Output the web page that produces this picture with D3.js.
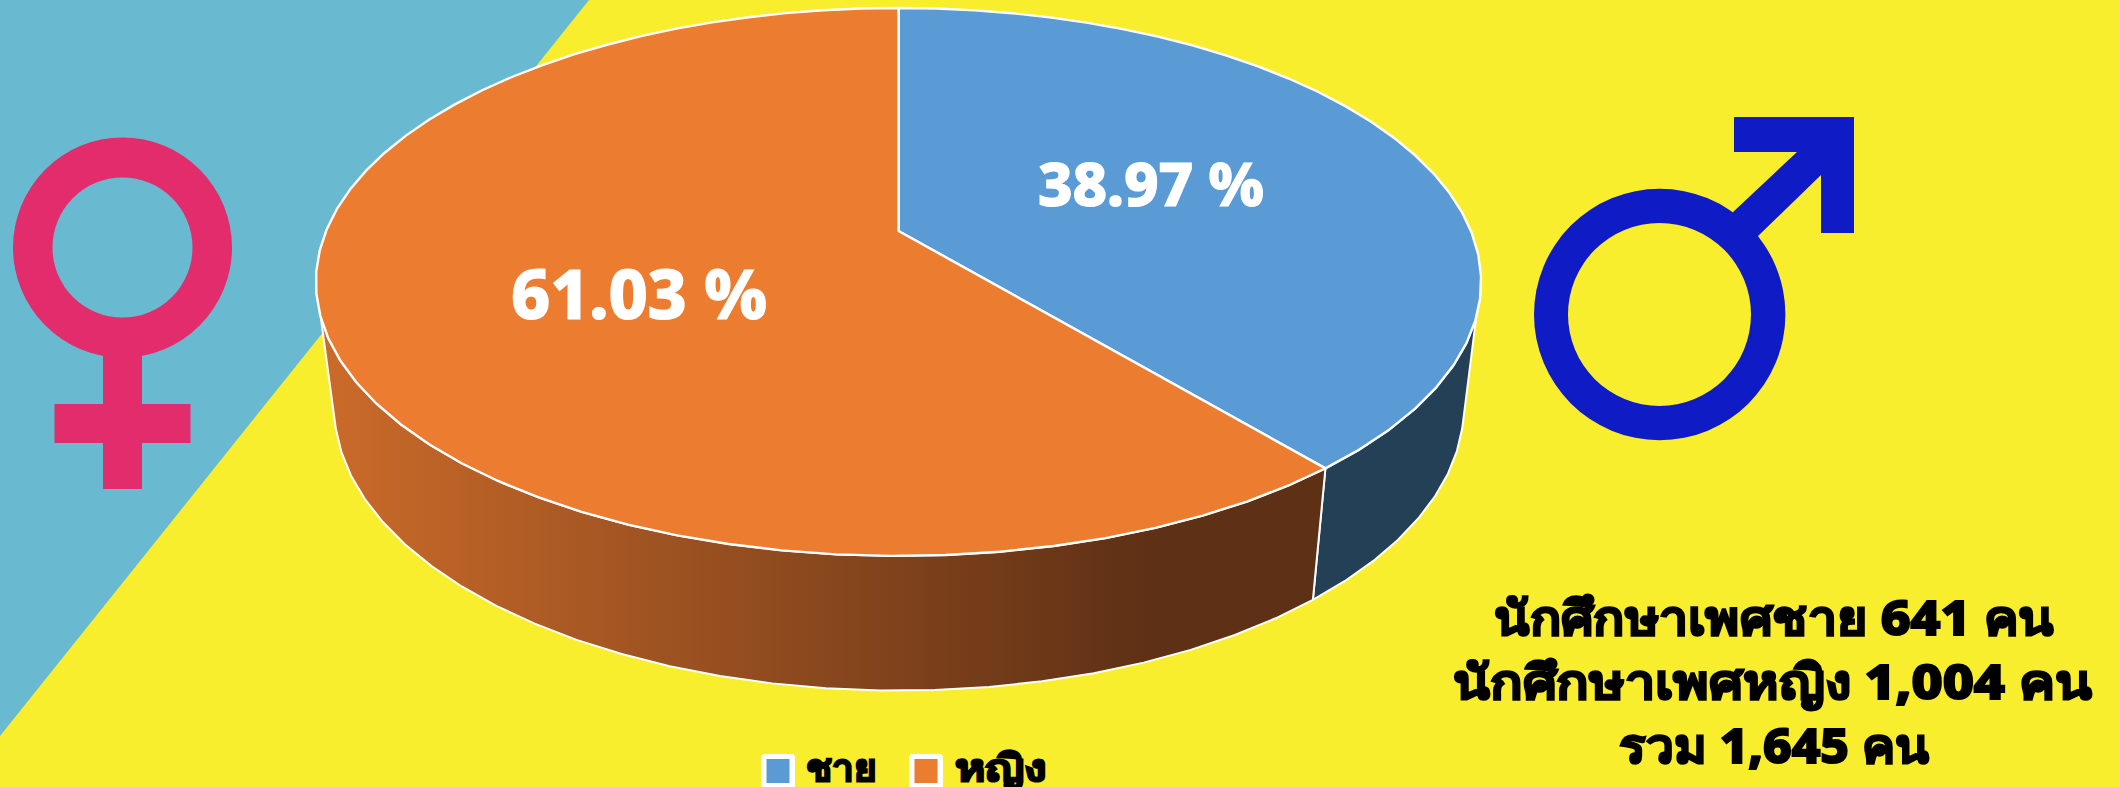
<!DOCTYPE html>
<html><head><meta charset="utf-8">
<script src="https://cdn.jsdelivr.net/npm/d3@7"></script>
<style>html,body{margin:0;padding:0;background:#f8ee2e;overflow:hidden}svg{display:block}
text{font-family:"Noto Sans","Open Sans",Lato,sans-serif;font-weight:800}</style></head>
<body><svg id="c" width="2120" height="787"></svg>
<script>
const categories = ["ชาย","หญิง"];
const students = [641,1004];
const pctLabels = ["38.97 %","61.03 %"];
const colors = ["#5b9bd5","#eb7c30"];
const summary = ["นักศึกษาเพศชาย 641 คน","นักศึกษาเพศหญิง 1,004 คน","รวม 1,645 คน"];

const svg = d3.select("#c");
const defs = svg.append("defs");
const g = defs.append("linearGradient").attr("id","wall").attr("gradientUnits","userSpaceOnUse")
  .attr("x1",320).attr("x2",1150).attr("y1",0).attr("y2",0);
g.append("stop").attr("offset",0).attr("stop-color","#cb6b2a");
g.append("stop").attr("offset",1).attr("stop-color","#5e3015");

svg.append("rect").attr("width",2120).attr("height",787).attr("fill","#f8ee2e");
svg.append("polygon").attr("points","0,0 589,0 0,736").attr("fill","#69b9d1");

const f = svg.append("g").attr("fill","#e22c6c");
f.append("path").attr("fill-rule","evenodd").attr("d",
 "M13,247.5a109.5,110 0 1,0 219,0a109.5,110 0 1,0 -219,0Z M52.5,247.5a70,70 0 1,0 140,0a70,70 0 1,0 -140,0Z");
f.append("rect").attr("x",103).attr("y",345).attr("width",39).attr("height",144);
f.append("rect").attr("x",54.5).attr("y",404).attr("width",136).attr("height",39);
const m = svg.append("g").attr("fill","#0f1bc4");
m.append("path").attr("fill-rule","evenodd").attr("d",
 "M1534,314.5a125.7,125.7 0 1,0 251.4,0a125.7,125.7 0 1,0 -251.4,0Z M1568,314.5a91.5,91.5 0 1,0 183,0a91.5,91.5 0 1,0 -183,0Z");
m.append("polygon").attr("points","1734,117 1854,117 1854,233 1821,233 1821,175 1757,237 1732,213 1797,152 1734,152");

const q = 0.186;
const topFace = {cx:898.5, cy:231, R:572.5, T:264.5};
const botFace = {cx:899, cy:354, R:555, T:274};
const proj = (p,t)=>{const u=Math.sin(t), z=Math.cos(t), w=1+q*z;
  return [p.cx+p.R*u/w, p.cy-p.T*z/w];};
const arcs = d3.pie().sort(null).value(d=>d)(students);
const rad = d=>d*Math.PI/180;
const steps = (a,b)=>{const n=Math.max(2,Math.round(Math.abs(b-a)/rad(4.5)));return d3.range(n+1).map(i=>a+(b-a)*i/n);};
const line = d3.line();
const closed = pts=>line(pts)+"Z";

const boundary = arcs[0].endAngle;
const wall = (a0,a1,b0,b1,fill)=>svg.append("path")
  .attr("d",closed([...steps(a0,a1).map(t=>proj(topFace,t)),...steps(b1,b0).map(t=>proj(botFace,t))]))
  .attr("fill",fill).attr("stroke","#fff").attr("stroke-width",2).attr("stroke-linejoin","round");
wall(rad(100),boundary,rad(105),boundary,"#244056");
wall(boundary,rad(252),boundary,rad(255),"url(#wall)");

arcs.forEach((a,i)=>{
  const pts=[[topFace.cx,topFace.cy],...steps(a.startAngle,a.endAngle).map(t=>proj(topFace,t))];
  svg.append("path").attr("d",closed(pts)).attr("fill",colors[i])
    .attr("stroke","#fff").attr("stroke-width",2.4).attr("stroke-linejoin","round");
});

const lab=[[1151,206,60,226],[639,319,68,256]];
svg.selectAll(".p").data(pctLabels).join("text").attr("class","p")
  .attr("x",(d,i)=>lab[i][0]-lab[i][3]/2).attr("y",(d,i)=>lab[i][1]).attr("font-size",(d,i)=>lab[i][2])
  .attr("textLength",(d,i)=>lab[i][3]).attr("lengthAdjust","spacing")
  .attr("fill","#fff").attr("stroke","#fff").attr("stroke-width",1.2).text(d=>d);

const ys=[635,699,763], spans=[[1494,560],[1453,639],[1619,310]];
svg.selectAll(".s").data(summary).join("text").attr("class","s")
  .attr("x",(d,i)=>spans[i][0]).attr("y",(d,i)=>ys[i]).attr("font-size",48)
  .attr("textLength",(d,i)=>spans[i][1]).attr("lengthAdjust","spacingAndGlyphs")
  .attr("fill","#000").attr("stroke","#000").attr("stroke-width",2).text(d=>d);

const lx=[761,909], tx=[806,955], tw=[70,92];
categories.forEach((c,i)=>{
  svg.append("rect").attr("x",lx[i]).attr("y",754).attr("width",34).attr("height",40).attr("rx",4).attr("fill","#fff");
  svg.append("rect").attr("x",lx[i]+5.5).attr("y",759).attr("width",23).attr("height",24).attr("fill",colors[i]);
  svg.append("text").attr("x",tx[i]).attr("y",781).attr("font-size",38).attr("fill","#000")
    .attr("textLength",tw[i]).attr("lengthAdjust","spacingAndGlyphs")
    .attr("stroke","#000").attr("stroke-width",2).text(c);
});
</script></body></html>
